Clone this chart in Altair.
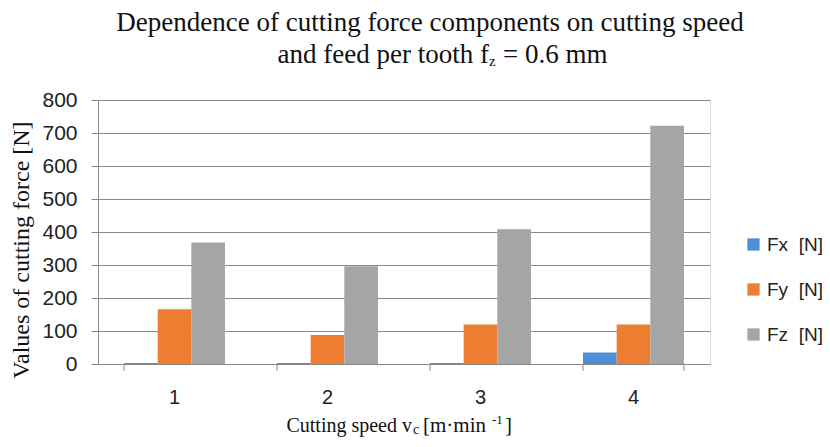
import altair as alt
import pandas as pd

speeds = ["1", "2", "3", "4"]
components = ["Fx\u00a0\u00a0[N]", "Fy\u00a0\u00a0[N]", "Fz\u00a0\u00a0[N]"]
fx = [3, 3, 3, 35]
fy = [166, 88, 120, 120]
fz = [368, 296, 408, 722]
colors = ["#4F8FD8", "#ED7D31", "#A5A5A5"]

rows = []
for i, s in enumerate(speeds):
    for c, vals in zip(components, [fx, fy, fz]):
        rows.append({"speed": s, "comp": c, "value": vals[i]})
df = pd.DataFrame(rows)

W, H = 612, 264
serif = "Liberation Serif"
sans = "Liberation Sans"

xscale = alt.Scale(domain=speeds, paddingInner=0.34, paddingOuter=0.17)
yscale = alt.Scale(domain=[0, 800])

bars = alt.Chart(df).mark_bar(strokeWidth=1).encode(
    x=alt.X("speed:N", scale=xscale, sort=speeds,
            axis=alt.Axis(title=None, labelAngle=0, labelFont=sans, labelFontSize=20,
                          labelColor="#222", ticks=False, domainColor="#888",
                          labelPadding=23, grid=False)),
    xOffset=alt.XOffset("comp:N", sort=components),
    y=alt.Y("value:Q", scale=yscale,
            axis=alt.Axis(title=None, values=list(range(0, 801, 100)), labelFont=sans,
                          labelFontSize=21, labelColor="#222", tickColor="#888",
                          tickSize=7, domainColor="#888", gridColor="#8a8a8a",
                          labelPadding=14)),
    color=alt.Color("comp:N", sort=components,
                    scale=alt.Scale(domain=components, range=colors),
                    legend=alt.Legend(title=None, orient="none", legendX=646, legendY=135,
                                      symbolType="square", symbolSize=150,
                                      symbolStrokeWidth=0, labelFont=sans,
                                      labelFontSize=19, labelColor="#222",
                                      rowPadding=25, labelOffset=4)),
)

tick_df = pd.DataFrame({"speed": speeds})
ticks_left = alt.Chart(tick_df).mark_rule(color="#888").encode(
    x=alt.X("speed:N", scale=xscale, sort=speeds, bandPosition=0),
    y=alt.value(H), y2=alt.value(H + 7))
ticks_right = alt.Chart(pd.DataFrame({"speed": [speeds[-1]]})).mark_rule(color="#888").encode(
    x=alt.X("speed:N", scale=xscale, sort=speeds, bandPosition=1),
    y=alt.value(H), y2=alt.value(H + 7))

def txt(text, px, py, size, align="left", angle=0, font=serif, baseline="middle"):
    return alt.Chart(pd.DataFrame({"t": [text]})).mark_text(
        font=font, fontSize=size, align=align, baseline=baseline, angle=angle,
        color="#111").encode(x=alt.value(px - 98), y=alt.value(py - 100), text="t:N")

texts = [
    txt("Dependence of cutting force components on cutting speed", 430, 23, 27, "center"),
    txt("and feed per tooth f", 489, 55, 27, "right"),
    txt("z", 489, 61, 15),
    txt("= 0.6 mm", 503, 55, 27),
    txt("Cutting speed v", 412, 426, 20, "right"),
    txt("c", 413, 430, 14),
    txt("[m·min", 423, 426, 21),
    txt("-1", 492, 420, 13),
    txt("]", 505, 426, 21),
    txt("Values of cutting force [N]", 22, 250, 24, "center", angle=270),
]

chart = alt.layer(bars, ticks_left, ticks_right, *texts).properties(
    width=W, height=H,
    autosize=alt.AutoSizeParams(type="none"),
    padding={"left": 90, "top": 92, "right": 112, "bottom": 75},
).configure_view(stroke=None).configure(background="white")

chart.save("out.html", embed_options={"renderer": "svg", "actions": False})
